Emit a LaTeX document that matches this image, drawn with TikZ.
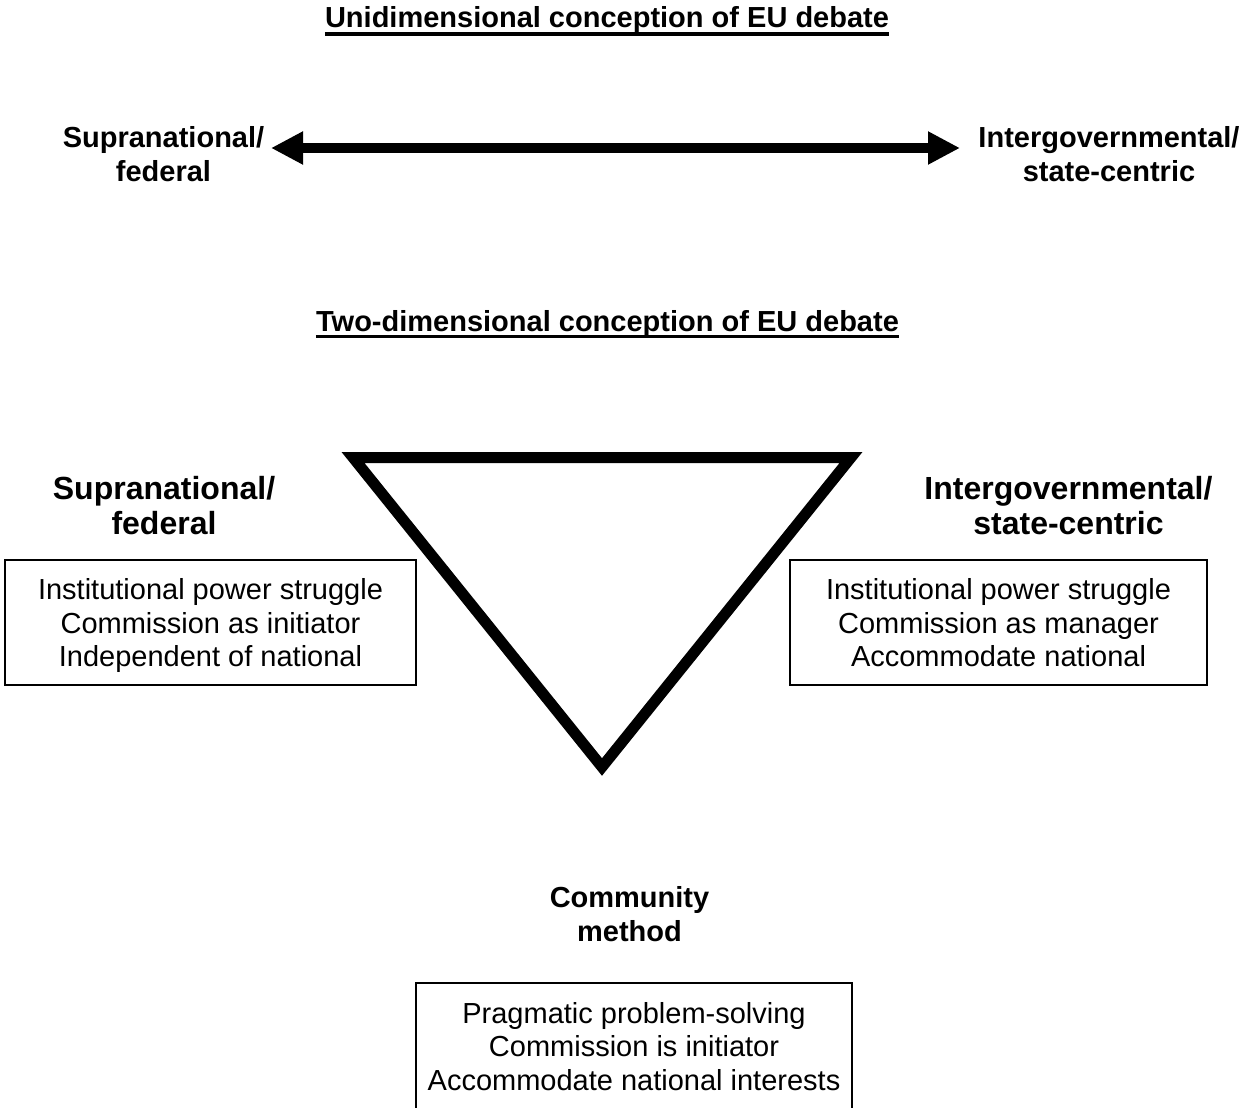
\documentclass[tikz,border=0pt]{standalone}
\usepackage{fontspec}
\setmainfont{Liberation Sans}
\usetikzlibrary{arrows.meta}
\begin{document}
\begin{tikzpicture}[x=1pt,y=-1pt,
  title/.style={font=\fontsize{29}{34}\selectfont\bfseries, inner sep=0pt, anchor=base},
  lab/.style={font=\fontsize{29}{34}\selectfont\bfseries, align=center, inner sep=0pt},
  biglab/.style={font=\fontsize{32}{35.5}\selectfont\bfseries, align=center, inner sep=0pt},
  infobox/.style={draw, line width=1.5pt, font=\fontsize{29}{33.5}\selectfont, align=center,
    minimum width=411pt, minimum height=125pt, inner sep=0pt, text depth=0pt},
  infotext/.style={font=\fontsize{29}{33.5}\selectfont, align=center, inner sep=0pt, text depth=0pt},
  bigarrow/.style={line width=10pt, {Triangle[length=32pt,width=31pt]}-{Triangle[length=32pt,width=31pt]}},
  ulineStyle/.style={line width=3.5pt},
  tri/.style={line width=11pt, miter limit=10}
]
\useasboundingbox (0,0) rectangle (1243,1108);
% titles
\node[title] (t1) at (607,27.5) {Unidimensional conception of EU debate};
\draw[ulineStyle] ([yshift=-6.5pt]t1.base west) -- ([yshift=-6.5pt]t1.base east);
\node[title] (t2) at (607.5,331) {Two-dimensional conception of EU debate};
\draw[ulineStyle] ([yshift=-5.5pt]t2.base west) -- ([yshift=-5.5pt]t2.base east);
% unidimensional
\node[lab] (sup1) at (163.5,154) {Supranational/\\federal};
\node[lab] (int1) at (1109,154) {Intergovernmental/\\state-centric};
\coordinate (a1) at (271,148);
\coordinate (a2) at (960,148);
\draw[bigarrow] (a1) -- (a2);
% triangle
\coordinate (tl) at (353,457.5);
\coordinate (tr) at (851,457.5);
\coordinate (tb) at (602,767);
\draw[tri] (tl) -- (tr) -- (tb) -- cycle;
% two-dimensional labels
\node[biglab] (sup2) at (164,505.5) {Supranational/\\federal};
\node[biglab] (int2) at (1068.5,505.5) {Intergovernmental/\\state-centric};
\node[lab] (com) at (629.5,914.5) {Community\\method};
% boxes
\node[infobox] (lbox) at (210.5,622.5) {Institutional power struggle\\Commission as initiator\\Independent of national};
\node[infobox, minimum width=417pt] (rbox) at (998.5,622.5) {Institutional power struggle\\Commission as manager\\Accommodate national};
\node[infotext] (bbox) at (634,1046) {Pragmatic problem-solving\\Commission is initiator\\Accommodate national interests};
\draw[line width=1.5pt] (416,1110) -- (416,983) -- (852,983) -- (852,1110);
\end{tikzpicture}
\end{document}
